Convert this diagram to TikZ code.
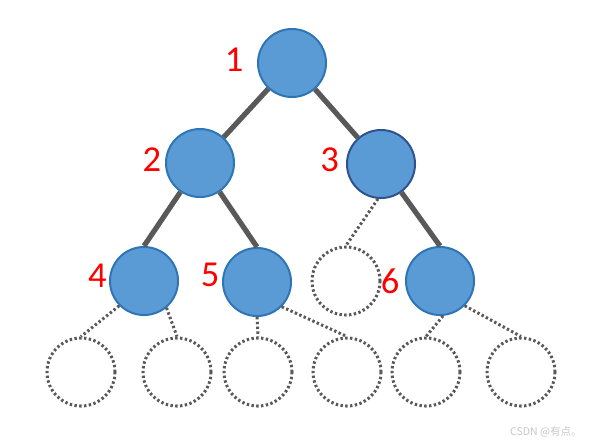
\documentclass[tikz,border=0pt]{standalone}
\usepackage{fontspec}
\setmainfont{Carlito}
\newfontfamily\cjkfont{Noto Sans CJK SC}
\usetikzlibrary{positioning}
\definecolor{nodeblue}{RGB}{91,155,213}
\definecolor{borderblue}{RGB}{46,117,182}
\definecolor{darkborder}{RGB}{47,82,143}
\definecolor{edgegray}{RGB}{89,89,89}
\definecolor{numred}{RGB}{255,0,0}

\begin{document}
\begin{tikzpicture}[x=0.025cm, y=-0.025cm,
    fullnode/.style={circle, minimum size=1.7cm, inner sep=0pt, fill=nodeblue, draw=borderblue, line width=0.05cm},
    holenode/.style={circle, minimum size=1.7cm, inner sep=0pt, draw=edgegray, line width=0.075cm, dash pattern=on 0.06cm off 0.06cm},
    branch/.style={edgegray, line width=0.13cm},
    dotbranch/.style={edgegray, line width=0.075cm, dash pattern=on 0.06cm off 0.06cm},
    numlabel/.style={text=numred, inner sep=0pt, font=\fontsize{26}{30}\selectfont}]
            \useasboundingbox (0,0) rectangle (589,443);

            % Nodos del arbol
            \node[fullnode] (n1) at (292,63) {};
            \node[fullnode] (n2) at (200,163) {};
            \node[fullnode, draw=darkborder] (n3) at (381,164) {};
            \node[fullnode] (n4) at (144,281) {};
            \node[fullnode] (n5) at (257,282) {};
            \node[holenode] (h3) at (346,281) {};
            \node[fullnode] (n6) at (440,281) {};

            % Hijos vacios
            \foreach \x [count=\i] in {81, 177, 258, 347, 426, 521} {
                \node[holenode] (b\i) at (\x,372) {};
            }

            % Numeros
            \node[numlabel, left=0.33cm of n1, yshift=0.075cm] (l1) {1};
            \node[numlabel, left=0.09cm of n2, yshift=0.075cm] (l2) {2};
            \node[numlabel, left=0.17cm of n3, yshift=0.1cm] (l3) {3};
            \node[numlabel, left=0.05cm of n4, yshift=0.12cm] (l4) {4};
            \node[numlabel, left=0.06cm of n5, yshift=0.17cm] (l5) {5};
            \node[numlabel, left=0.13cm of n6] (l6) {6};

            % Ramas
            \draw[branch] (n1) -- (n2);
            \draw[branch] (n1) -- (n3);
            \draw[branch] (n2) -- (n4.north);
            \draw[branch] (n2) -- (n5.north);
            \draw[branch] (n3) -- (n6.north);

            % Ramas vacias
            \draw[dotbranch] (n3.-95) -- (h3.north);
            \draw[dotbranch] (n4.225) -- (b1.north);
            \draw[dotbranch] (n4.-50) -- (b2.north);
            \draw[dotbranch] (n5.south) -- (b3.north);
            \draw[dotbranch] (n5.-45) -- (b4.north);
            \draw[dotbranch] (n6.-85) -- (b5.north);
            \draw[dotbranch] (n6.-45) -- (b6.north);

            % Marca
            \node[text=black!22, anchor=south east, inner sep=0pt, font=\cjkfont\fontsize{7.5}{9}\selectfont] (wm) at (582,438) {CSDN @有点。};
        \end{tikzpicture}
\end{document}
